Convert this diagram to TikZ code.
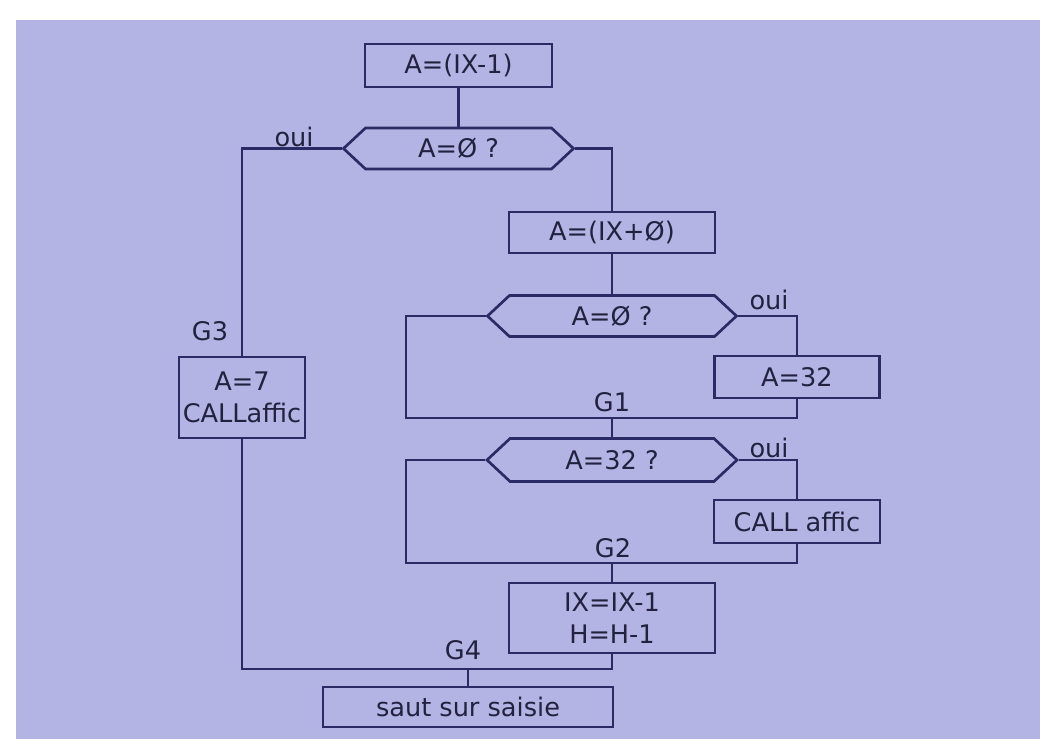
\documentclass[tikz,border=0pt]{standalone}
\usepackage{fontspec}
\setmainfont{DejaVu Sans}
\usetikzlibrary{shapes.symbols}
\definecolor{bgc}{RGB}{180,180,228}
\definecolor{linec}{RGB}{42,42,100}
\definecolor{textc}{RGB}{34,34,64}
\tikzset{
  every node/.style={text=textc, font=\fontsize{19.2}{23.5}\selectfont},
  conn/.style={draw=linec, line width=2pt},
  procbox/.style={draw=linec, line width=2pt, rectangle, inner sep=0pt, align=center},
  hexbox/.style={draw=linec, line width=2pt, signal, signal to=west and east,
     signal pointer angle=86, inner sep=0pt},
  lbl/.style={inner sep=0pt}
}
\begin{document}
\begin{tikzpicture}[x=0.75pt,y=-0.75pt]
\useasboundingbox (0,0) rectangle (1040,739);
\fill[white] (0,0) rectangle (1040,739);
\fill[bgc] (16,20) rectangle (1040,739);

% nodes
\node[procbox, minimum width=140.25pt, minimum height=32.25pt] (b1) at (458.5,65.5) {A=(IX-1)};
\node[hexbox, minimum width=172.5pt, minimum height=30.75pt] (h1) at (458.5,148.5) {A=Ø ?};
\node[procbox, minimum width=154.5pt, minimum height=30.75pt] (b2) at (612,232.5) {A=(IX+Ø)};
\node[hexbox, minimum width=186.75pt, minimum height=30.75pt] (h2) at (612,316) {A=Ø ?};
\node[procbox, minimum width=123.75pt, minimum height=31.5pt] (a32) at (797,377) {A=32};
\node[hexbox, minimum width=187.5pt, minimum height=32.25pt] (h3) at (612,460) {A=32 ?};
\node[procbox, minimum width=124.5pt, minimum height=32.25pt] (ca) at (797,521.5) {CALL affic};
\node[procbox, minimum width=154.5pt, minimum height=52.5pt] (ix) at (612,618) {IX=IX-1\\H=H-1};
\node[procbox, minimum width=94.5pt, minimum height=60.75pt] (g3box) at (242,397.5) {A=7\\CALLaffic};
\node[procbox, minimum width=217.5pt, minimum height=30pt] (saut) at (468,707) {saut sur saisie};

% junction points
\coordinate (g1) at (612,418);
\coordinate (g1l) at (406,418);
\coordinate (g2) at (612,563);
\coordinate (g2l) at (406,563);
\coordinate (g4) at (468,669);

% labels
\node[lbl] (oui1) at (294,137) {oui};
\node[lbl] (oui2) at (769,300) {oui};
\node[lbl] (oui3) at (769,448) {oui};
\node[lbl] (lg1) at (612,402) {G1};
\node[lbl] (lg2) at (613,548) {G2};
\node[lbl] (lg3) at (210,331) {G3};
\node[lbl] (lg4) at (463,650) {G4};

% connectors
\draw[conn] (b1.south) -- (h1.north);
\draw[conn] (h1.west) -| (g3box.north);
\draw[conn] (h1.east) -| (b2.north);
\draw[conn] (b2.south) -- (h2.north);
\draw[conn] (h2.east) -| (a32.north);
\draw[conn] (h2.west) -| (g1l) -- (a32.south |- g1) -- (a32.south);
\draw[conn] (g1) -- (h3.north);
\draw[conn] (h3.east) -| (ca.north);
\draw[conn] (h3.west) -| (g2l) -- (ca.south |- g2) -- (ca.south);
\draw[conn] (g2) -- (ix.north);
\draw[conn] (g3box.south) -- (g3box.south |- g4) -- (ix.south |- g4) -- (ix.south);
\draw[conn] (g4) -- (saut.north);
\end{tikzpicture}
\end{document}
